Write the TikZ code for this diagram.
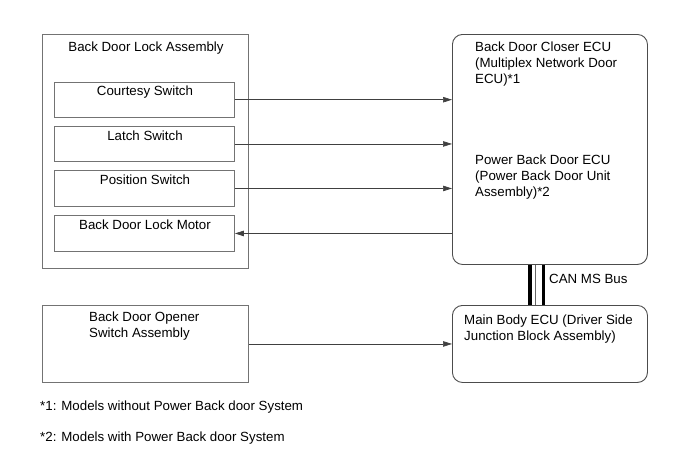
\documentclass[tikz,border=0pt]{standalone}
\usepackage{fontspec}
\setmainfont{Liberation Sans}
\usetikzlibrary{arrows.meta}

\tikzset{
  blk/.style={draw=black!55,line width=0.9pt,inner sep=0pt,anchor=north west},
  ecu/.style={blk,draw=black!70,rounded corners=10pt},
  txt/.style={inner sep=0pt,align=left},
  sig/.style={draw=black!75,line width=0.7pt,-{Triangle[length=9pt,width=5.5pt]}},
}

\begin{document}
\begin{tikzpicture}[x=1pt,y=-1pt,font=\fontsize{13.3}{16}\selectfont]
\useasboundingbox (0,0) rectangle (690,464);
% boxes
\node[blk,minimum width=206.5pt,minimum height=234pt] (lockasm) at (41.5,34) {};
\node[blk,minimum width=180pt,minimum height=35.5pt] (courtesy) at (54,81.5) {};
\node[blk,minimum width=180pt,minimum height=35pt] (latch) at (54,126) {};
\node[blk,minimum width=180pt,minimum height=36pt] (position) at (54,170) {};
\node[blk,minimum width=180pt,minimum height=36pt] (motor) at (54,215) {};
\node[ecu,minimum width=195pt,minimum height=230pt] (closer) at (452,34) {};
\node[blk,minimum width=206.5pt,minimum height=77pt] (opener) at (41.5,305) {};
\node[ecu,minimum width=195pt,minimum height=77pt] (mainbody) at (452,305) {};
% texts (multi-line ones sit on their last baseline)
\node[txt,anchor=base] (lockasmtxt) at (146,51) {Back Door Lock Assembly};
\node[txt,anchor=base] (courtesytxt) at (145,95) {Courtesy Switch};
\node[txt,anchor=base] (latchtxt) at (145,140) {Latch Switch};
\node[txt,anchor=base] (positiontxt) at (145,184.5) {Position Switch};
\node[txt,anchor=base] (motortxt) at (145,229.5) {Back Door Lock Motor};
\node[txt,anchor=base west] (closertxt) at (475,83.5) {Back Door Closer ECU\\(Multiplex Network Door\\ECU)*1};
\node[txt,anchor=base west] (pbdtxt) at (475,196.5) {Power Back Door ECU\\(Power Back Door Unit\\Assembly)*2};
\node[txt,anchor=base west] (openertxt) at (89,337.5) {Back Door Opener\\Switch Assembly};
\node[txt,anchor=base west] (mainbodytxt) at (464,340.5) {Main Body ECU (Driver Side\\Junction Block Assembly)};
\node[txt,anchor=base west] (cantxt) at (549,283.5) {CAN MS Bus};
\node[txt,anchor=base west] (note1) at (40,410) {*1: Models without Power Back door System};
\node[txt,anchor=base west] (note2) at (40,441) {*2: Models with Power Back door System};
% signal lines
\draw[sig] (courtesy.east) -- (courtesy.east -| closer.west);
\draw[sig] (latch.east) -- (latch.east -| closer.west);
\draw[sig] (position.east) -- (position.east -| closer.west);
\draw[sig] (motor.east -| closer.west) -- (motor.east);
\draw[sig] (opener.east) -- (mainbody.west);
% CAN bus
\draw[line width=3.5pt] ([xshift=-20pt]closer.south) -- ([xshift=-20pt]mainbody.north);
\draw[black!60,line width=1pt] ([xshift=-14pt]closer.south) -- ([xshift=-14pt]mainbody.north);
\draw[line width=3.5pt] ([xshift=-6.5pt]closer.south) -- ([xshift=-6.5pt]mainbody.north);
\end{tikzpicture}
\end{document}
